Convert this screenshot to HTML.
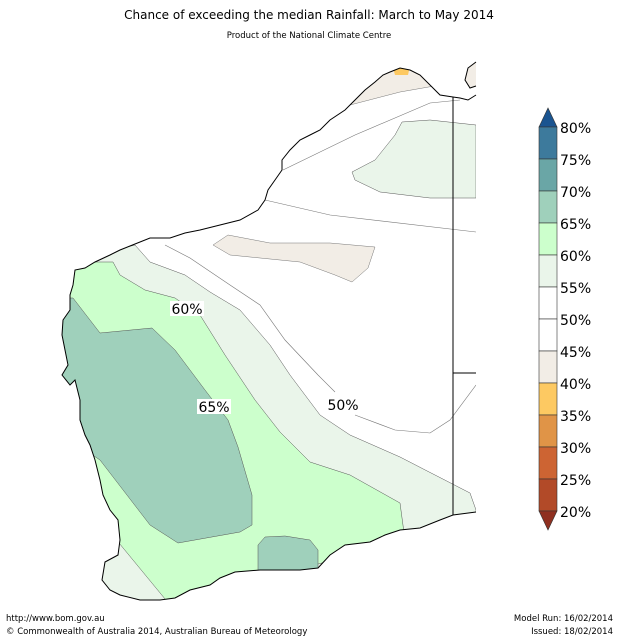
<!DOCTYPE html>
<html><head><meta charset="utf-8"><style>
html,body{margin:0;padding:0;background:#fff;}
svg{display:block;font-family:"DejaVu Sans","Liberation Sans",sans-serif;}
</style></head><body>
<svg width="619" height="640" viewBox="0 0 619 640" xmlns="http://www.w3.org/2000/svg">
<defs>
<clipPath id="land"><path d="M476,95 L468,100 L460,98 L453,97 L440,95 L433,88 L420,75 L410,70 L400,68 L390,72 L383,75 L375,82 L365,90 L355,100 L345,110 L330,120 L320,130 L310,135 L300,140 L290,150 L282,160 L282,170 L275,180 L268,190 L265,200 L258,210 L240,220 L220,225 L200,230 L185,233 L170,238 L150,238 L135,244 L120,250 L110,255 L95,262 L85,268 L75,270 L73,285 L70,295 L70,310 L63,320 L62,335 L65,350 L68,365 L62,375 L70,385 L75,380 L80,400 L80,420 L85,435 L90,445 L95,460 L100,480 L103,495 L110,510 L118,520 L120,540 L118,555 L105,562 L102,580 L110,590 L120,595 L140,600 L160,600 L175,598 L190,590 L210,585 L220,578 L235,572 L260,570 L300,570 L318,568 L330,555 L345,545 L370,542 L385,535 L400,530 L420,528 L440,520 L453,515 L476,512 Z"/></clipPath>
</defs>
<text x="309" y="19" text-anchor="middle" font-size="12" fill="#000">Chance of exceeding the median Rainfall: March to May 2014</text>
<text x="309" y="38" text-anchor="middle" font-size="8.5" fill="#000">Product of the National Climate Centre</text>
<g clip-path="url(#land)">
<rect x="0" y="50" width="476" height="570" fill="#fff"/>
<path d="M115,250 L135,245 L150,262 L185,275 L210,292 L240,310 L270,345 L290,375 L320,415 L350,435 L400,457 L470,493 L476,510 L476,620 L40,620 L40,250 Z" fill="#eaf5ea" stroke="#555" stroke-width="0.5"/>
<path d="M100,262 L113,262 L120,275 L145,290 L175,298 L200,315 L225,355 L255,400 L280,432 L310,462 L350,475 L400,503 L405,540 L170,605 L119,543 L40,500 L40,262 Z" fill="#ccffcc" stroke="#555" stroke-width="0.5"/>
<path d="M73,298 L100,333 L152,328 L175,350 L205,390 L228,420 L238,447 L252,495 L252,525 L240,532 L178,543 L150,525 L100,460 L40,420 L40,298 Z" fill="#9fd0bb" stroke="#555" stroke-width="0.5"/>
<path d="M258,545 L265,537 L285,536 L310,540 L318,550 L318,575 L258,575 Z" fill="#9fd0bb" stroke="#555" stroke-width="0.5"/>
<path d="M350,105 L400,92 L440,85 L440,55 L350,55 Z" fill="#f2ede6" stroke="#777" stroke-width="0.5"/>
<path d="M393,68 L400,64 L410,66 L408,75 L395,75 Z" fill="#fdc962"/>
<path d="M402,122 L430,120 L476,125 L476,198 L430,198 L380,192 L355,180 L352,172 L375,160 L395,135 Z" fill="#eaf5ea" stroke="#555" stroke-width="0.5"/>
<path d="M213,245 L228,235 L270,243 L330,243 L375,247 L368,268 L352,282 L335,275 L300,262 L230,255 Z" fill="#f2ede6" stroke="#777" stroke-width="0.5"/>
<path d="M265,200 L330,215 L476,232" fill="none" stroke="#777" stroke-width="0.6"/>
<path d="M283,170 L355,135 L430,103 L460,100" fill="none" stroke="#777" stroke-width="0.6"/>
<path d="M165,245 L190,258 L230,285 L260,305 L285,340 L318,375 L335,392 M355,415 L395,430 L430,433 L450,420 L476,385" fill="none" stroke="#777" stroke-width="0.6"/>
</g>
<path d="M476,95 L468,100 L460,98 L453,97 L440,95 L433,88 L420,75 L410,70 L400,68 L390,72 L383,75 L375,82 L365,90 L355,100 L345,110 L330,120 L320,130 L310,135 L300,140 L290,150 L282,160 L282,170 L275,180 L268,190 L265,200 L258,210 L240,220 L220,225 L200,230 L185,233 L170,238 L150,238 L135,244 L120,250 L110,255 L95,262 L85,268 L75,270 L73,285 L70,295 L70,310 L63,320 L62,335 L65,350 L68,365 L62,375 L70,385 L75,380 L80,400 L80,420 L85,435 L90,445 L95,460 L100,480 L103,495 L110,510 L118,520 L120,540 L118,555 L105,562 L102,580 L110,590 L120,595 L140,600 L160,600 L175,598 L190,590 L210,585 L220,578 L235,572 L260,570 L300,570 L318,568 L330,555 L345,545 L370,542 L385,535 L400,530 L420,528 L440,520 L453,515 L476,512" fill="none" stroke="#000" stroke-width="1"/>
<path d="M476,62 L468,68 L465,80 L470,88 L476,86" fill="#f2ede6" stroke="#000" stroke-width="1"/>
<path d="M453,97 L453,515 M453,373 L476,373" stroke="#000" stroke-width="1" fill="none"/>
<rect x="170" y="301" width="34" height="15" fill="#fff"/>
<text x="187" y="314" text-anchor="middle" font-size="14">60%</text>
<rect x="197" y="399" width="34" height="15" fill="#fff"/>
<text x="214" y="412" text-anchor="middle" font-size="14">65%</text>
<text x="343" y="410" text-anchor="middle" font-size="14">50%</text>
<g stroke="#333" stroke-width="0.6">
<path d="M539,127 L548,108 L557,127 Z" fill="#1a5490"/>
<rect x="539" y="127" width="18" height="32" fill="#3d7a9c"/>
<rect x="539" y="159" width="18" height="32" fill="#6aa6a6"/>
<rect x="539" y="191" width="18" height="32" fill="#9fd0bb"/>
<rect x="539" y="223" width="18" height="32" fill="#ccffcc"/>
<rect x="539" y="255" width="18" height="32" fill="#eaf5ea"/>
<rect x="539" y="287" width="18" height="32" fill="#fff"/>
<rect x="539" y="319" width="18" height="32" fill="#fff"/>
<rect x="539" y="351" width="18" height="32" fill="#f2ede6"/>
<rect x="539" y="383" width="18" height="32" fill="#fdc962"/>
<rect x="539" y="415" width="18" height="32" fill="#e09447"/>
<rect x="539" y="447" width="18" height="32" fill="#cd6433"/>
<rect x="539" y="479" width="18" height="32" fill="#b24a28"/>
<path d="M539,511 L548,530 L557,511 Z" fill="#8f3020"/>
</g>
<g font-size="14" fill="#000">
<text x="560" y="133">80%</text><text x="560" y="165">75%</text><text x="560" y="197">70%</text>
<text x="560" y="229">65%</text><text x="560" y="261">60%</text><text x="560" y="293">55%</text>
<text x="560" y="325">50%</text><text x="560" y="357">45%</text><text x="560" y="389">40%</text>
<text x="560" y="421">35%</text><text x="560" y="453">30%</text><text x="560" y="485">25%</text>
<text x="560" y="517">20%</text>
</g>
<g font-size="8.5" fill="#000">
<text x="6" y="621">http://www.bom.gov.au</text>
<text x="6" y="634">©  Commonwealth of Australia 2014, Australian Bureau of Meteorology</text>
<text x="613" y="621" text-anchor="end">Model Run: 16/02/2014</text>
<text x="613" y="634" text-anchor="end">Issued: 18/02/2014</text>
</g>
</svg>
</body></html>
